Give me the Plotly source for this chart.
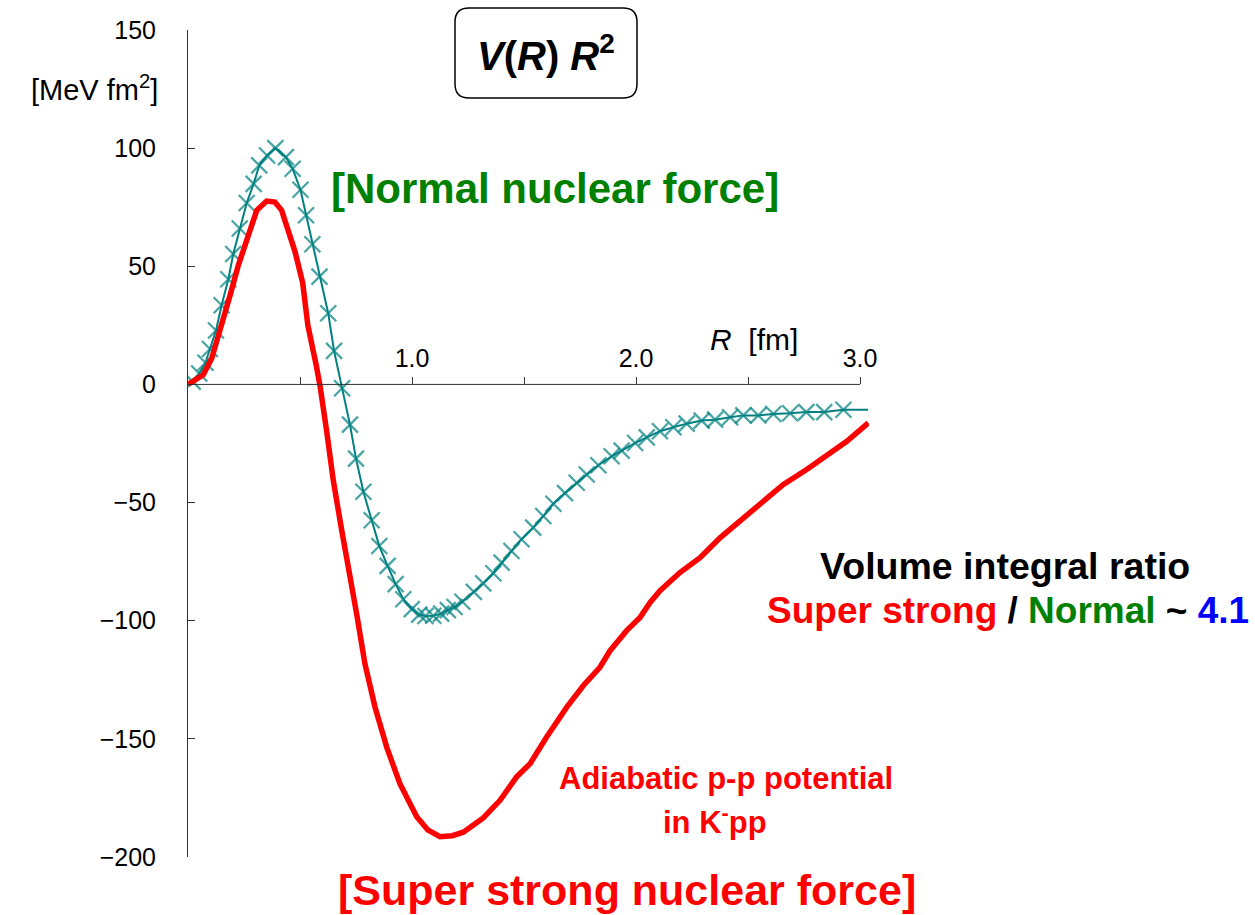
import plotly.graph_objects as go

# ---------------- data ----------------
normal_R = [0.0, 0.021, 0.05, 0.078, 0.098, 0.125, 0.15, 0.18, 0.202, 0.231, 0.262, 0.293, 0.318,
            0.353, 0.39, 0.437, 0.467, 0.502, 0.527, 0.555, 0.587, 0.626, 0.652, 0.688, 0.723,
            0.75, 0.783, 0.82, 0.854, 0.891, 0.927, 0.961, 0.999, 1.032, 1.06, 1.095, 1.13,
            1.16, 1.19, 1.225, 1.276, 1.318, 1.363, 1.40, 1.444, 1.489, 1.541, 1.586, 1.631,
            1.683, 1.735, 1.78, 1.832, 1.891, 1.936, 1.996, 2.048, 2.107, 2.167, 2.226, 2.293,
            2.353, 2.42, 2.479, 2.546, 2.613, 2.688, 2.76, 2.84, 2.926, 3.036]
normal_V = [0.0, 1.2, 4.6, 9.2, 15.0, 22.8, 33.5, 44.5, 55.2, 66.0, 76.8, 84.9, 92.7,
            96.9, 100.0, 96.2, 91.3, 82.4, 71.6, 59.3, 45.6, 30.1, 14.2, -1.6, -17.0,
            -31.4, -45.4, -57.5, -68.4, -76.8, -84.5, -90.9, -95.1, -97.4, -98.0, -97.9, -97.0,
            -95.5, -94.2, -92.0, -87.8, -84.2, -79.9, -75.4, -70.5, -65.5, -60.6, -55.7, -50.5,
            -46.0, -41.6, -38.1, -34.2, -30.4, -28.0, -24.8, -22.4, -19.8, -18.1, -16.6, -15.3,
            -14.9, -13.9, -13.1, -13.1, -12.5, -12.2, -11.7, -11.7, -10.7, -10.7]

strong_R = [0.0, 0.009, 0.068, 0.106, 0.143, 0.188, 0.225, 0.262, 0.284, 0.307, 0.351, 0.388,
            0.418, 0.441, 0.478, 0.512, 0.535, 0.572, 0.59, 0.619, 0.649, 0.686, 0.723, 0.753,
            0.790, 0.835, 0.887, 0.946, 1.021, 1.07, 1.125, 1.18, 1.229, 1.318, 1.393, 1.467,
            1.527, 1.601, 1.691, 1.765, 1.839, 1.884, 1.958, 2.018, 2.063, 2.107, 2.196, 2.286,
            2.375, 2.479, 2.568, 2.658, 2.762, 2.851, 2.941, 3.037]
strong_V = [0.0, 0.5, 4.1, 11.1, 22.4, 37.8, 50.5, 61.7, 67.4, 73.7, 77.6, 77.2,
            73.7, 67.4, 56.1, 43.0, 25.0, 8.3, -1.0, -19.8, -40.9, -61.6, -80.1, -97.2,
            -118.3, -136.6, -153.5, -169.0, -183.0, -188.5, -191.4, -191.0, -189.5, -183.5, -176.0, -166.1,
            -160.5, -149.2, -136.6, -127.4, -119.7, -112.7, -104.2, -98.6, -92.3, -87.3, -79.6, -73.3,
            -64.9, -56.4, -49.4, -42.3, -36.0, -30.4, -24.1, -16.3]

x_tick_vals = [0.5, 1.0, 1.5, 2.0, 2.5, 3.0]
x_tick_text = ["", "1.0", "", "2.0", "", "3.0"]
y_tick_vals = [-200, -150, -100, -50, 0, 50, 100, 150]

# ---------------- layout geometry ----------------
W, H = 1255, 915
ML, MR, MT, MB = 188, 386, 30, 58
PW, PH = W - ML - MR, H - MT - MB
X_RANGE = [0, 3.04]
Y_RANGE = [-200, 150]
FONT = "Liberation Sans, Arial, sans-serif"


def fx(px):
    return (px - ML) / PW


def fy(py):
    return (H - MB - py) / PH


fig = go.Figure()

marker_sizes = [0] + [16] * (len(normal_R) - 2) + [0]
fig.add_trace(go.Scatter(
    x=normal_R, y=normal_V, mode="lines+markers",
    line=dict(color="#008080", width=2),
    marker=dict(symbol="x-thin", size=marker_sizes, color="#008080",
                line=dict(color="#008080", width=2.3)),
    hoverinfo="skip", showlegend=False))

fig.add_trace(go.Scatter(
    x=strong_R, y=strong_V, mode="lines",
    line=dict(color="#FF0000", width=5.5),
    hoverinfo="skip", showlegend=False))

# x axis line at V = 0
fig.add_shape(type="line", xref="x", yref="y", x0=0, x1=3.0, y0=0, y1=0,
              line=dict(color="#333333", width=1))


def rounded_rect(x0, y0, x1, y1, r):
    pts = [
        ("M", [(x0 + r, y0)]),
        ("L", [(x1 - r, y0)]),
        ("Q", [(x1, y0), (x1, y0 + r)]),
        ("L", [(x1, y1 - r)]),
        ("Q", [(x1, y1), (x1 - r, y1)]),
        ("L", [(x0 + r, y1)]),
        ("Q", [(x0, y1), (x0, y1 - r)]),
        ("L", [(x0, y0 + r)]),
        ("Q", [(x0, y0), (x0 + r, y0)]),
    ]
    s = ""
    for cmd, ps in pts:
        s += cmd + " " + " ".join(f"{fx(a):.5f},{fy(b):.5f}" for a, b in ps) + " "
    return s + "Z"


fig.add_shape(type="path", xref="paper", yref="paper",
              path=rounded_rect(455, 8, 637, 98, 14),
              line=dict(color="black", width=1.5), fillcolor="rgba(0,0,0,0)")

ann = []


def add(text, px, py, size, color="black", xanchor="center"):
    ann.append(dict(text=text, x=fx(px), y=fy(py), xref="paper", yref="paper",
                    xanchor=xanchor, yanchor="middle", showarrow=False,
                    font=dict(family=FONT, size=size, color=color)))


add("[MeV fm<sup>2</sup>]", 160, 88, 29, xanchor="right")
add("<b><i>V</i>(<i>R</i>) <i>R</i><sup>2</sup></b>", 546, 53, 40)
add("<b>[Normal nuclear force]</b>", 555, 188, 42, color="#008000")
add("<i>R</i>&nbsp; [fm]", 754, 340, 30)
add("<b>Adiabatic p-p potential</b>", 726, 778, 31, color="#FF0000")
add("<b>in K<sup>-</sup>pp</b>", 715, 820, 31, color="#FF0000")
add("<b>[Super strong nuclear force]</b>", 627, 890, 43, color="#FF0000")
add("<b>Volume integral ratio</b>", 1005, 566, 37.5)
add("<b><span style='color:#FF0000'>Super strong</span> / "
    "<span style='color:#008000'>Normal</span> ~ "
    "<span style='color:#0000FF'>4.1</span></b>", 1008, 610, 37)

fig.update_layout(
    width=W, height=H,
    margin=dict(l=ML, r=MR, t=MT, b=MB, autoexpand=False),
    paper_bgcolor="white", plot_bgcolor="white",
    showlegend=False,
    font=dict(family=FONT, size=25, color="black"),
    annotations=ann,
    xaxis=dict(range=X_RANGE, anchor="free", position=(0 - Y_RANGE[0]) / (Y_RANGE[1] - Y_RANGE[0]),
               side="top", showline=False, showgrid=False, zeroline=False,
               ticks="outside", ticklen=7, tickwidth=1, tickcolor="#333333",
               tickvals=x_tick_vals, ticktext=x_tick_text,
               tickfont=dict(family=FONT, size=25, color="black"),
               automargin=False, fixedrange=True),
    yaxis=dict(range=Y_RANGE, showline=True, linecolor="#333333", linewidth=1,
               showgrid=False, zeroline=False,
               ticks="inside", ticklen=7, tickwidth=1, tickcolor="#333333",
               tickvals=y_tick_vals, tickformat="d",
               tickfont=dict(family=FONT, size=25, color="black"),
               ticklabelstandoff=26, automargin=False, fixedrange=True),
)

fig.write_html("out.html")
